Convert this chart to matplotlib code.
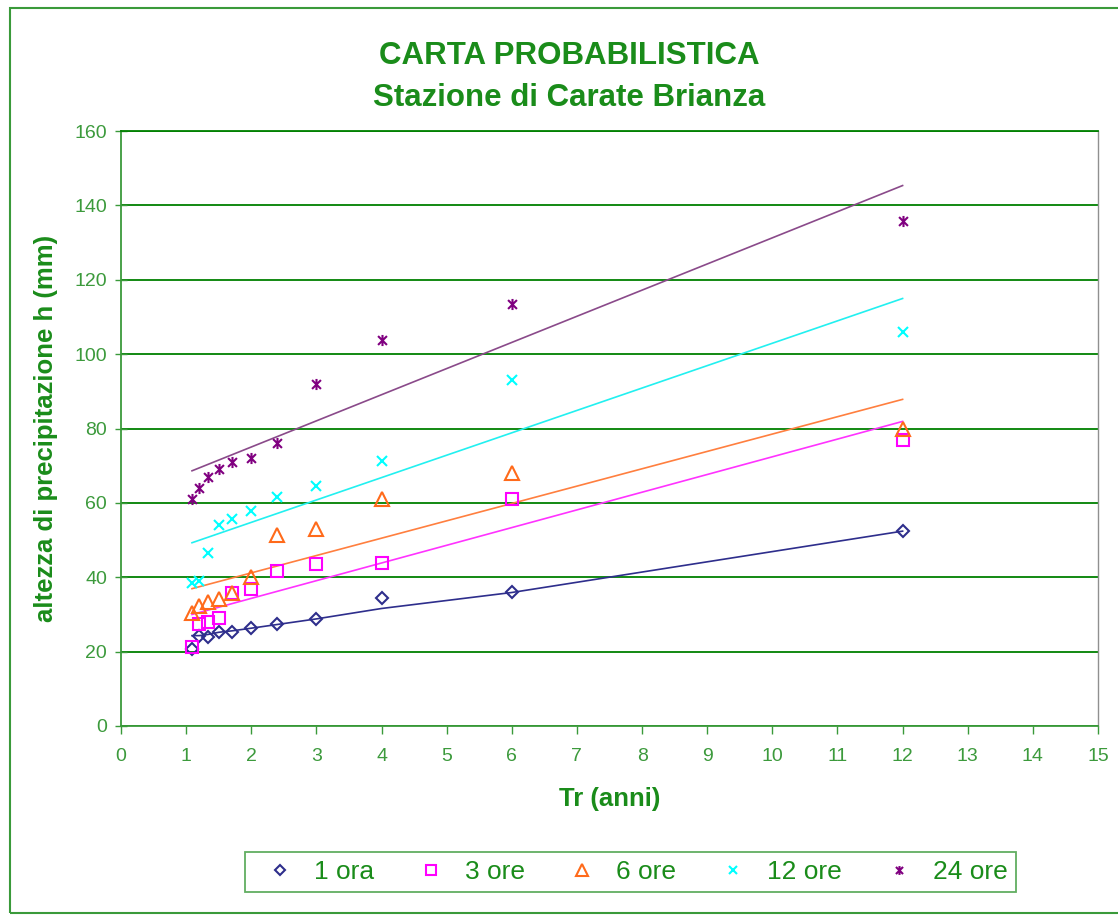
import numpy as np
import matplotlib
matplotlib.use("Agg")
import matplotlib.pyplot as plt
from matplotlib.path import Path
from matplotlib.patches import Rectangle

plt.rcParams["font.family"] = ["Liberation Sans", "DejaVu Sans"]

# Tempi di ritorno (anni)
tr = [1.09, 1.2, 1.33, 1.5, 1.71, 2.0, 2.4, 3.0, 4.0, 6.0, 12.0]

# Altezze di precipitazione (mm)
h_1ora = [20.6, 24.2, 24.0, 25.2, 25.2, 26.3, 27.3, 28.8, 34.3, 35.9, 52.4]
h_3ore = [21.3, 27.4, 28.0, 29.0, 35.8, 36.9, 41.7, 43.5, 43.7, 61.0, 76.9]
h_6ore = [30.5, 32.3, 33.4, 34.1, 35.8, 40.1, 51.4, 53.0, 61.0, 67.9, 79.8]
h_12ore = [38.4, 39.1, 46.6, 54.0, 55.7, 57.9, 61.5, 64.6, 71.3, 93.0, 105.9]
h_24ore = [61.0, 64.1, 66.9, 69.0, 71.1, 72.1, 76.0, 92.0, 103.8, 113.5, 135.8]

# curva di regolarizzazione per 1 ora
fit_1ora = [24.3, 24.3, 24.6, 25.2, 25.6, 26.3, 27.3, 28.8, 31.6, 35.9, 52.4]

labels = ["1 ora", "3 ore", "6 ore", "12 ore", "24 ore"]

verde = "#1a8c1a"
verde_chiaro = "#3c9a3c"

# marker asterisco stile Excel (x con barra verticale)
asterisco = Path(
    [(-1, -1), (1, 1), (-1, 1), (1, -1), (0, -1.25), (0, 1.25)],
    [Path.MOVETO, Path.LINETO, Path.MOVETO, Path.LINETO, Path.MOVETO, Path.LINETO],
)

serie = [
    (h_1ora, "D", "#2e2e8c", "#2e2e8c", 6.5),
    (h_3ore, "s", "#ff00ff", "#ff33ff", 9.0),
    (h_6ore, "^", "#ff6a1a", "#ff7f3f", 10),
    (h_12ore, "x", "#00ffff", "#22f0f0", 7.0),
    (h_24ore, asterisco, "#800080", "#8a4a8a", 8.0),
]

fig = plt.figure(figsize=(11.18, 9.15), dpi=100)
ax = fig.add_axes([121 / 1118, 1 - 726 / 915, 977 / 1118, 595 / 915])

# cornice esterna
fig.patches.append(Rectangle((10 / 1118, 0.002), 1.2, 1 - 8 / 915 - 0.002,
                             transform=fig.transFigure, fill=False,
                             edgecolor="#3a9a3a", linewidth=1.5))

x = np.array(tr)
for i, (vals, mk, col, lcol, ms) in enumerate(serie):
    if i == 0:
        ax.plot(tr, fit_1ora, color=lcol, linewidth=1.2, zorder=3)
    else:
        p = np.polyfit(x, np.array(vals), 1)
        xx = np.array([x.min(), x.max()])
        ax.plot(xx, np.polyval(p, xx), color=lcol, linewidth=1.2, zorder=3)
    ax.plot(tr, vals, linestyle="none", marker=mk, markersize=ms,
            markerfacecolor="none", markeredgecolor=col,
            markeredgewidth=1.5, label=labels[i], zorder=4)

ax.set_xlim(0, 15)
ax.set_ylim(0, 160)
ax.set_xticks(range(0, 16))
ax.set_yticks(range(0, 161, 20))
ax.yaxis.grid(True, color="#008000", linewidth=1.3)
ax.set_axisbelow(True)

for s in ["left", "bottom"]:
    ax.spines[s].set_color("#3a9a3a")
    ax.spines[s].set_linewidth(1.3)
ax.spines["top"].set_color("#008000")
ax.spines["top"].set_linewidth(1.3)
ax.spines["right"].set_color("#909090")
ax.spines["right"].set_linewidth(1.0)

ax.tick_params(axis="x", direction="out", length=6, width=1, color="#3a9a3a",
               labelcolor=verde_chiaro, labelsize=14, pad=10)
ax.tick_params(axis="y", direction="inout", length=8, width=1, color="#3a9a3a",
               labelcolor=verde_chiaro, labelsize=14, pad=6)

ax.set_xlabel("Tr (anni)", fontsize=18.5, fontweight="bold", color=verde, labelpad=16)
ax.set_ylabel("altezza di precipitazione h (mm)", fontsize=18.5, fontweight="bold",
              color=verde, labelpad=12)

fig.text(569 / 1118, 1 - 56 / 915, "CARTA PROBABILISTICA", ha="center", va="center",
         fontsize=22.5, fontweight="bold", color=verde)
fig.text(569 / 1118, 1 - 98 / 915, "Stazione di Carate Brianza", ha="center", va="center",
         fontsize=22.5, fontweight="bold", color=verde)

leg_handles = []
for vals, mk, col, lcol, ms in serie:
    lh, = ax.plot([], [], linestyle="none", marker=mk, markersize=ms * 0.8,
                  markerfacecolor="none", markeredgecolor=col, markeredgewidth=1.5)
    leg_handles.append(lh)

leg = fig.legend(leg_handles, labels, loc="lower left", ncol=5, mode="expand",
                 bbox_to_anchor=(232 / 1118, 1 - 905 / 915, 797 / 1118, 50 / 915),
                 frameon=True, fancybox=False, fontsize=19, handletextpad=0.3,
                 borderpad=0.3, labelcolor=verde, handlelength=2.0)
leg.get_frame().set_edgecolor("#3a9a3a")
leg.get_frame().set_linewidth(1.3)

fig.savefig("out.png", dpi=100)
